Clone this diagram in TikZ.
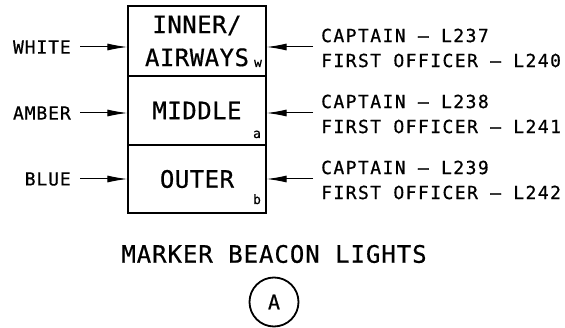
\documentclass[tikz,border=0pt]{standalone}
\usepackage{fontspec}
\usepackage{tikz}
\usetikzlibrary{positioning, arrows.meta, calc}
\newfontfamily\lblfont[LetterSpace=8, FakeBold=0.6]{DejaVu Sans Mono}
\newfontfamily\colfont[LetterSpace=5, FakeBold=0.6]{DejaVu Sans Mono}
\newfontfamily\bigfont[LetterSpace=2, FakeBold=0.6]{DejaVu Sans Mono}
\newfontfamily\ttlfont[LetterSpace=4, FakeBold=0.6]{DejaVu Sans Mono}

\begin{document}
\begin{tikzpicture}[x=1pt, y=-1pt, font=\lblfont,
                    cell/.style={draw, line width=1.3pt, minimum width=138pt, inner sep=0pt, font=\bigfont\fontsize{24}{33}\selectfont, align=center},
                    lamp/.style={font=\lblfont\fontsize{18}{25}\selectfont, inner sep=0pt},
                    colour/.style={font=\colfont\fontsize{18}{25}\selectfont, inner sep=0pt, anchor=east},
                    sub/.style={font=\bigfont\fontsize{13}{13}\selectfont, inner sep=0pt, anchor=base},
                    arr/.style={-{Latex[length=20pt, width=7pt]}, line width=1pt}]

    \useasboundingbox (0,0) rectangle (565,328);

    % Lamp cells
    \node[cell, minimum height=70pt] (inner)  at (197,41)    {INNER/\\AIRWAYS};
    \node[cell, minimum height=69pt] (middle) at (197,110.5) {MIDDLE};
    \node[cell, minimum height=68pt] (outer)  at (197,179)   {OUTER};

    \node[sub] (subw) at (258,67)  {w};
    \node[sub] (suba) at (257,138) {a};
    \node[sub] (subb) at (257,204) {b};

    % Colour labels (left)
    \node[colour] (white) at (71,47)  {WHITE};
    \node[colour] (amber) at (71,113) {AMBER};
    \node[colour] (blue)  at (71,179) {BLUE};

    % Light circuits (right)
    \node[lamp, anchor=west, align=left] (ckta) at (321,48)  {CAPTAIN – L237\\FIRST OFFICER – L240};
    \node[lamp, anchor=west, align=left] (cktb) at (321,114) {CAPTAIN – L238\\FIRST OFFICER – L241};
    \node[lamp, anchor=west, align=left] (cktc) at (321,180) {CAPTAIN – L239\\FIRST OFFICER – L242};

    % Arrows
    \draw[arr, shorten <=9pt] (white.east) -- (white.east -| inner.west);
    \draw[arr, shorten <=9pt] (amber.east) -- (amber.east -| middle.west);
    \draw[arr, shorten <=9pt] (blue.east)  -- (blue.east -| outer.west);
    \draw[arr, shorten <=8pt] (ckta.west |- white.east) -- (white.east -| inner.east);
    \draw[arr, shorten <=8pt] (cktb.west |- amber.east) -- (amber.east -| middle.east);
    \draw[arr, shorten <=8pt] (cktc.west |- blue.east)  -- (blue.east -| outer.east);

    % Caption
    \node[font=\ttlfont\fontsize{24}{24}\selectfont, inner sep=0pt] (title) at (274,254) {MARKER BEACON LIGHTS};
    \node[circle, draw, line width=1.8pt, minimum size=49pt, inner sep=0pt, font=\bigfont\fontsize{20}{20}\selectfont] (tag) at (274,302) {A};

\end{tikzpicture}
\end{document}
